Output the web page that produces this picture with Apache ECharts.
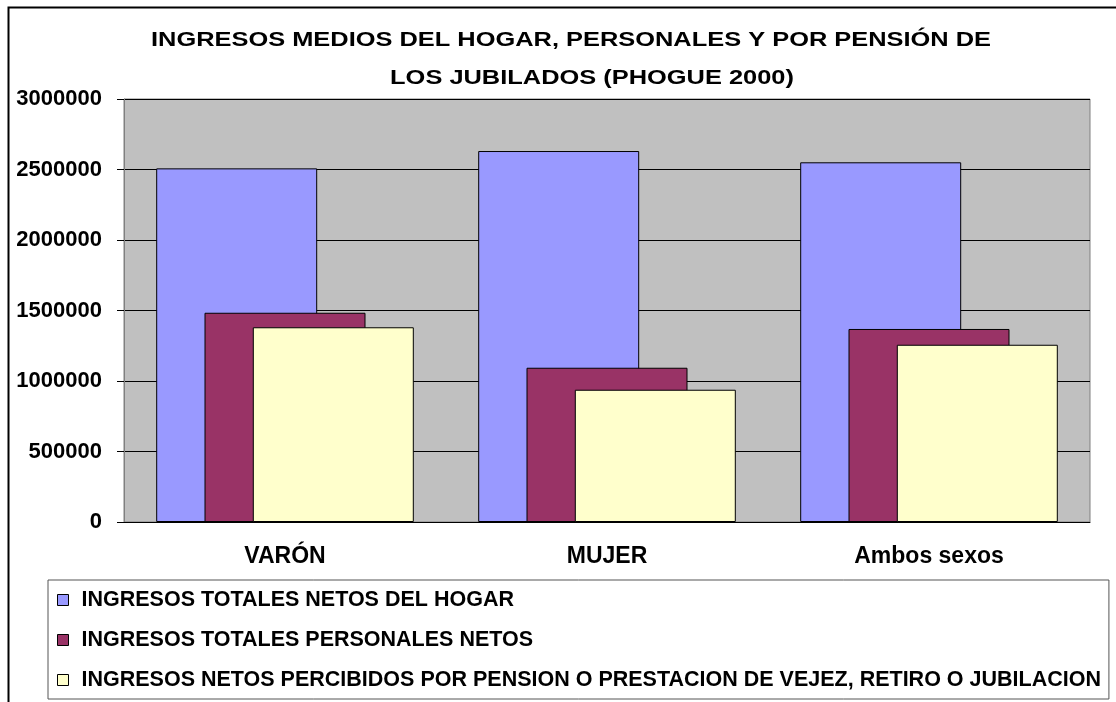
<!DOCTYPE html>
<html>
<head>
<meta charset="utf-8">
<script src="https://cdn.jsdelivr.net/npm/echarts@6/dist/echarts.min.js"></script>
<style>
  html, body { margin: 0; padding: 0; background: #fff; }
  #chart { width: 1116px; height: 702px; }
</style>
</head>
<body>
<div id="chart"></div>
<script>
// categorias y series
var categories = ["VARÓN", "MUJER", "Ambos sexos"];
var seriesNames = [
  "INGRESOS TOTALES NETOS DEL HOGAR",
  "INGRESOS TOTALES PERSONALES NETOS",
  "INGRESOS NETOS PERCIBIDOS POR PENSION O PRESTACION DE VEJEZ, RETIRO O JUBILACION"
];
var hogar = [2508000, 2631000, 2551000];
var personales = [1484000, 1094000, 1369000];
var pension = [1381000, 938000, 1257000];
var colors = ["#9999FF", "#993366", "#FFFFCC"];

var font = "Liberation Sans, Arial, sans-serif";
var myChart = echarts.init(document.getElementById("chart"));

function bar(name, data, color) {
  return {
    name: name,
    type: "bar",
    data: data,
    barWidth: 161,
    barGap: "-70%",
    itemStyle: { color: color, borderColor: "#000", borderWidth: 1 }
  };
}

var option = {
  animation: false,
  textStyle: { fontFamily: font },
  graphic: [
    {
      type: "rect",
      shape: { x: 8.5, y: 7.5, width: 1200, height: 800 },
      style: { fill: "none", stroke: "#000", lineWidth: 2 },
      silent: true
    },
    {
      type: "text",
      x: 571, y: 40, scaleX: 1.21,
      style: {
        text: "INGRESOS MEDIOS DEL HOGAR, PERSONALES Y POR PENSIÓN DE",
        font: "bold 21px " + font,
        fill: "#000", align: "center", verticalAlign: "middle"
      }
    },
    {
      type: "text",
      x: 592, y: 78, scaleX: 1.21,
      style: {
        text: "LOS JUBILADOS (PHOGUE 2000)",
        font: "bold 21px " + font,
        fill: "#000", align: "center", verticalAlign: "middle"
      }
    }
  ],
  grid: {
    left: 124, top: 99, right: 26, bottom: 180,
    show: true,
    backgroundColor: "#C0C0C0",
    borderColor: "#808080",
    borderWidth: 1
  },
  legend: {
    orient: "vertical",
    left: 48, top: 580,
    padding: [9, 8, 8, 9],
    itemGap: 18,
    itemWidth: 11, itemHeight: 11,
    icon: "rect",
    borderColor: "#555",
    borderWidth: 1,
    backgroundColor: "#fff",
    itemStyle: { borderColor: "#000", borderWidth: 1 },
    textStyle: { fontFamily: font, fontWeight: "bold", fontSize: 21.5, lineHeight: 22, color: "#000", padding: [0, 0, 0, 8] },
    data: seriesNames
  },
  xAxis: {
    type: "category",
    data: categories,
    axisLine: { lineStyle: { color: "#000", width: 1 } },
    axisTick: { length: 7, lineStyle: { color: "#000" } },
    axisLabel: { margin: 23, fontFamily: font, fontWeight: "bold", fontSize: 23, color: "#000" }
  },
  yAxis: {
    type: "value",
    min: 0, max: 3000000, interval: 500000,
    axisLine: { show: true, lineStyle: { color: "#808080", width: 1 } },
    axisTick: { show: true, length: 7, lineStyle: { color: "#000" } },
    axisLabel: {
      margin: 22, fontFamily: font, fontWeight: "bold", fontSize: 22, color: "#000",
      formatter: function (v) { return String(v); }
    },
    splitLine: { lineStyle: { color: "#000", width: 1 } }
  },
  series: [
    bar(seriesNames[0], hogar, colors[0]),
    bar(seriesNames[1], personales, colors[1]),
    bar(seriesNames[2], pension, colors[2])
  ]
};

myChart.setOption(option);
</script>
</body>
</html>
